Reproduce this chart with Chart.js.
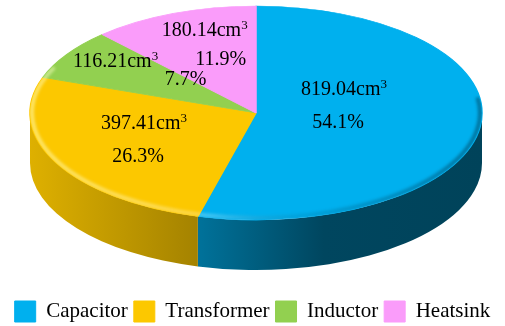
<!DOCTYPE html>
<html>
<head>
<meta charset="utf-8">
<script src="https://cdn.jsdelivr.net/npm/chart.js@4"></script>
<style>
  html, body { margin: 0; padding: 0; background: #fff; }
</style>
</head>
<body>
<canvas id="volChart" width="505" height="326"></canvas>
<script>
const parts = ["Capacitor", "Transformer", "Inductor", "Heatsink"];
const volumes = [819.04, 397.41, 116.21, 180.14]; // cm3
const colors = ["#00b0ee", "#fcc800", "#92d050", "#fa9cfa"];

// tilted disc geometry (screen px)
const cx = 256, cy = 113, rx = 226, ry = 107, depth = 50;

// label nudges from the mid-slice anchor: [dx, dy] for the volume line and the share line
const volNudge = [[-24, -25], [-12, -9], [-46, -17], [-10, -27]];
const pctNudge = [[-30, 8], [-18, 24], [24, 1], [6, 2]];

const total = volumes.reduce((s, v) => s + v, 0);

const shade = (hex, k) => {
  const n = parseInt(hex.slice(1), 16);
  const r = Math.round(((n >> 16) & 255) * k);
  const g = Math.round(((n >> 8) & 255) * k);
  const b = Math.round((n & 255) * k);
  return `rgb(${r},${g},${b})`;
};

const tilt = {
  id: "tilt",
  beforeDatasetsDraw(chart) {
    const ctx = chart.ctx;
    const arcs = chart.getDatasetMeta(0).data;

    // side wall, only the front half (0..PI) shows
    arcs.forEach((arc, i) => {
      const a = Math.max(arc.startAngle, 0);
      const b = Math.min(arc.endAngle, Math.PI);
      if (b <= a) return;
      const grad = ctx.createLinearGradient(cx - rx, 0, cx + rx, 0);
      grad.addColorStop(0, shade(colors[i], 0.88));
      grad.addColorStop(0.36, shade(colors[i], 0.66));
      grad.addColorStop(0.65, shade(colors[i], 0.4));
      grad.addColorStop(1, shade(colors[i], 0.38));
      ctx.save();
      ctx.beginPath();
      ctx.ellipse(cx, cy, rx, ry, 0, a, b);
      ctx.ellipse(cx, cy + depth, rx, ry, 0, b, a, true);
      ctx.closePath();
      ctx.fillStyle = grad;
      ctx.fill();
      ctx.restore();
    });

    // squash the round pie onto the top ellipse
    const { x, y, outerRadius: r } = arcs[0];
    ctx.save();
    ctx.translate(cx, cy);
    ctx.scale(rx / r, ry / r);
    ctx.translate(-x, -y);
  },
  afterDatasetsDraw(chart) {
    const ctx = chart.ctx;
    ctx.restore();

    // bevel on the rim: lit on the left, shaded on the right
    ctx.save();
    ctx.beginPath();
    ctx.ellipse(cx, cy, rx, ry, 0, 0, Math.PI * 2);
    ctx.clip();
    const bevel = ctx.createLinearGradient(cx - rx, 0, cx + rx, 0);
    bevel.addColorStop(0, "rgba(255,255,190,0.55)");
    bevel.addColorStop(0.4, "rgba(255,255,255,0.25)");
    bevel.addColorStop(0.6, "rgba(0,40,60,0.1)");
    bevel.addColorStop(1, "rgba(0,40,60,0.45)");
    ctx.filter = "blur(1.5px)";
    ctx.beginPath();
    ctx.ellipse(cx, cy, rx - 2, ry - 2, 0, -0.15, Math.PI + 0.45);
    ctx.strokeStyle = bevel;
    ctx.lineWidth = 4;
    ctx.stroke();
    ctx.restore();

    // value labels
    const arcs = chart.getDatasetMeta(0).data;
    ctx.save();
    ctx.fillStyle = "#000";
    ctx.textBaseline = "alphabetic";
    arcs.forEach((arc, i) => {
      const mid = (arc.startAngle + arc.endAngle) / 2;
      const ax = cx + rx * 0.5 * Math.cos(mid);
      const ay = cy + ry * 0.5 * Math.sin(mid);

      const main = volumes[i].toFixed(2) + "cm";
      ctx.font = '20px "Liberation Serif"';
      const wMain = ctx.measureText(main).width;
      ctx.font = '13px "Liberation Serif"';
      const wSup = ctx.measureText("3").width;
      const vx = ax + volNudge[i][0] - (wMain + wSup) / 2;
      const vy = ay + volNudge[i][1];
      ctx.textAlign = "left";
      ctx.font = '20px "Liberation Serif"';
      ctx.fillText(main, vx, vy);
      ctx.font = '13px "Liberation Serif"';
      ctx.fillText("3", vx + wMain, vy - 7);

      const pct = (volumes[i] / total * 100).toFixed(1) + "%";
      ctx.font = '20px "Liberation Serif"';
      ctx.textAlign = "center";
      ctx.fillText(pct, ax + pctNudge[i][0], ay + pctNudge[i][1]);
    });
    ctx.restore();
  }
};

Chart.defaults.color = "#000";

new Chart(document.getElementById("volChart"), {
  type: "pie",
  plugins: [tilt],
  data: {
    labels: parts,
    datasets: [{
      data: volumes,
      backgroundColor: colors,
      borderColor: colors,
      borderWidth: 1,
      hoverOffset: 0
    }]
  },
  options: {
    responsive: false,
    animation: false,
    events: [],
    layout: { padding: { bottom: -6 } },
    plugins: {
      tooltip: { enabled: false },
      legend: {
        position: "bottom",
        labels: {
          boxWidth: 21,
          boxHeight: 21,
          padding: 6,
          font: { family: "Liberation Serif", size: 21 }
        }
      }
    }
  }
});
</script>
</body>
</html>
